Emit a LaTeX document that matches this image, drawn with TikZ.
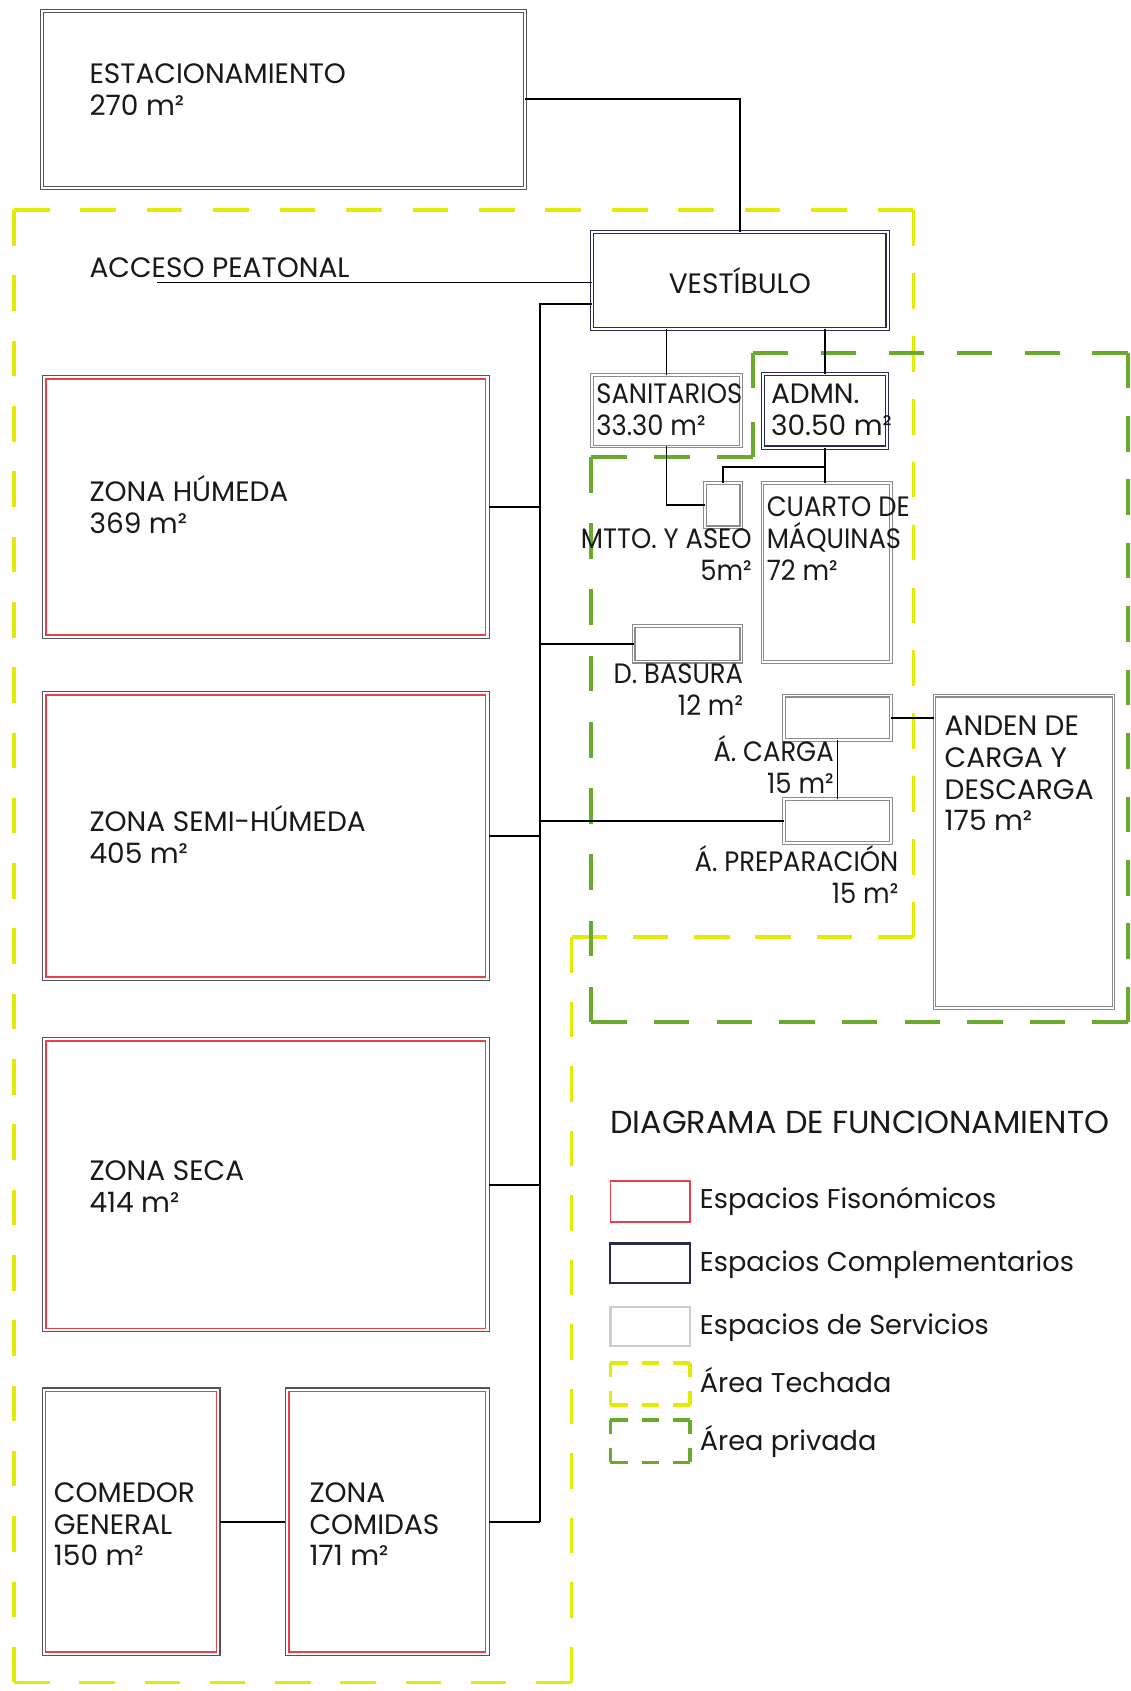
\documentclass[tikz,border=0pt]{standalone}
\usepackage{fontspec}
\setmainfont{Poppins}
\newfontfamily\narrowfont{Poppins}[FakeStretch=0.92]
\definecolor{yel}{RGB}{226,236,0}
\definecolor{grn}{RGB}{105,170,45}
\definecolor{navy}{RGB}{42,44,78}
\definecolor{fisred}{RGB}{232,62,78}
\definecolor{fisout}{RGB}{85,85,85}
\definecolor{servgray}{RGB}{140,140,140}
\definecolor{txt}{RGB}{25,25,25}
\definecolor{lgray}{RGB}{205,205,205}
\newcommand\mainfs{\fontsize{26}{29.5}\selectfont}
\newcommand\narrowfs{\narrowfont\fontsize{26}{29.5}\selectfont}
\newcommand\legfs{\fontsize{25.2}{29.5}\selectfont}
\newcommand\titlefs{\fontsize{29.5}{32}\selectfont}
\newcommand\dseg[4]{\draw[#1,dash pattern=on 33pt off #4pt] (#2) -- (#3);}
\begin{document}
\begin{tikzpicture}[x=1pt,y=-1pt,
  every node/.style={inner sep=0pt, outer sep=0pt, text=txt, font=\mainfs},
  conn/.style={draw=black, line width=1.7pt},
  serv/.style={rectangle, draw=servgray, line width=1pt, double=white, double distance=1.6pt},
  comp/.style={rectangle, draw=navy, line width=1.1pt, double=white, double distance=1.8pt},
  fis/.style={rectangle, draw=fisout, line width=1pt,
    path picture={\draw[draw=fisred, line width=1.6pt]
      ([shift={(3.2pt,-3.2pt)}]path picture bounding box.north west) rectangle
      ([shift={(-3.2pt,3.2pt)}]path picture bounding box.south east);}},
  lab/.style={anchor=base west, align=left},
  labr/.style={anchor=base east, align=right},
  narrow/.style={font=\narrowfs},
  leg/.style={anchor=base west, font=\legfs},
  yarea/.style={draw=yel, line width=3.5pt},
  garea/.style={draw=grn, line width=3.5pt}]
\useasboundingbox (0,0) rectangle (1048,1568);
\fill[white] (0,0) rectangle (1048,1568);
% covered area (yellow)
\coordinate (Y1) at (13,195); \coordinate (Y2) at (847,195);
\coordinate (Y3) at (847,869); \coordinate (Y4) at (530,869);
\coordinate (Y5) at (530,1560); \coordinate (Y6) at (13,1560);
\dseg{yarea}{Y1}{Y2}{28.6}
\dseg{yarea}{Y2}{Y3}{25.3}
\dseg{yarea}{Y3}{Y4}{23.8}
\dseg{yarea}{Y4}{Y5}{26.8}
\dseg{yarea}{Y5}{Y6}{27.5}
\dseg{yarea}{Y6}{Y1}{27.55}
% private area (green)
\coordinate (G1) at (698,327); \coordinate (G2) at (1046,327);
\coordinate (G3) at (1046,948); \coordinate (G4) at (548,948);
\coordinate (G5) at (548,424); \coordinate (G6) at (698,424);
\dseg{garea}{G1}{G2}{30}
\dseg{garea}{G2}{G3}{25.8}
\dseg{garea}{G3}{G4}{25.1}
\dseg{garea}{G4}{G5}{28.4}
\dseg{garea}{G5}{G6}{25.5}
\dseg{garea}{G6}{G1}{31}
% boxes
\node[serv, draw=fisout, minimum width=448pt, minimum height=164pt] (est) at (263,92) {};
\node[comp, minimum width=274pt, minimum height=90pt] (vest) at (686,260) {VESTÍBULO};
\node[serv, minimum width=138pt, minimum height=66pt] (san) at (618,381) {};
\node[comp, minimum width=115pt, minimum height=68pt] (adm) at (765,381) {};
\node[serv, minimum width=34pt, minimum height=41pt] (mtto) at (670.5,468.5) {};
\node[serv, minimum width=119pt, minimum height=166pt] (cuarto) at (766.5,531) {};
\node[serv, minimum width=100pt, minimum height=33pt] (bas) at (637.5,597) {};
\node[serv, minimum width=99pt, minimum height=41pt] (carga) at (776.5,665.5) {};
\node[serv, minimum width=99pt, minimum height=41pt] (prep) at (776.5,761.5) {};
\node[serv, minimum width=166pt, minimum height=290pt] (anden) at (949.5,790) {};
\node[fis, minimum width=414pt, minimum height=244pt] (zh) at (246.5,470) {};
\node[fis, minimum width=414pt, minimum height=268pt] (zsh) at (246.5,775) {};
\node[fis, minimum width=414pt, minimum height=273pt] (zs) at (246.5,1098.5) {};
\node[fis, minimum width=165pt, minimum height=248pt] (com) at (121.5,1411) {};
\node[fis, minimum width=189pt, minimum height=248pt] (zc) at (359,1411) {};
% connectors
\draw[conn] (est.east) -| (vest.north);
\coordinate (acc) at (146,262);
\draw[conn] (acc) -- (acc -| vest.west);
\coordinate (tt) at (501,282);
\draw[conn] (vest.west |- tt) -- (tt) -- (tt |- zc.east);
\foreach \n in {zh,zsh,zs,zc} \draw[conn] (\n.east) -- (\n.east -| tt);
\draw[conn] (bas.west) -- (bas.west -| tt);
\draw[conn] (prep.west) -- (prep.west -| tt);
\draw[conn] (com.east) -- (zc.west);
\draw[conn] (san.north) -- (san.north |- vest.south);
\draw[conn] (adm.north) -- (adm.north |- vest.south);
\draw[conn] (san.south) |- (mtto.west);
\draw[conn] (adm.south) -- (adm.south |- cuarto.north);
\coordinate (jm) at (765,433);
\draw[conn] (jm) -| (mtto.north);
\draw[conn] (carga.east) -- (carga.east -| anden.west);
\draw[conn] (carga.south) -- (prep.north);
% labels (base = baseline of last line)
\node[lab] (t_est) at (83,107) {ESTACIONAMIENTO\\270 m²};
\node[lab] (t_acc) at (83,257) {ACCESO PEATONAL};
\node[lab, narrow] (t_san) at (553,403.5) {SANITARIOS\\33.30 m²};
\node[lab] (t_adm) at (715,403.5) {ADMN.\\30.50 m²};
\node[labr, narrow] (t_mtto) at (697,538) {MTTO. Y ASEO\\5m²};
\node[lab, narrow] (t_cua) at (711,538) {CUARTO DE\\MÁQUINAS\\72 m²};
\node[labr, narrow] (t_bas) at (689,663) {D. BASURA\\12 m²};
\node[labr, narrow] (t_car) at (773,736) {Á. CARGA\\15 m²};
\node[labr, narrow] (t_pre) at (833,838) {Á. PREPARACIÓN\\15 m²};
\node[lab] (t_and) at (876,770.5) {ANDEN DE\\CARGA Y\\DESCARGA\\175 m²};
\node[lab] (t_zh) at (83,494.5) {ZONA HÚMEDA\\369 m²};
\node[lab] (t_zsh) at (83,800.5) {ZONA SEMI-HÚMEDA\\405 m²};
\node[lab] (t_zs) at (83,1124.5) {ZONA SECA\\414 m²};
\node[lab] (t_com) at (50,1452) {COMEDOR\\GENERAL\\150 m²};
\node[lab] (t_zc) at (287,1452) {ZONA\\COMIDAS\\171 m²};
% legend
\node[anchor=base west, font=\titlefs] (lt) at (566,1051) {DIAGRAMA DE FUNCIONAMIENTO};
\node[draw=fisred, line width=1.6pt, minimum width=74pt, minimum height=38pt] (lg1) at (603,1114) {};
\node[draw=navy, line width=2pt, minimum width=74pt, minimum height=37pt] (lg2) at (603,1171.5) {};
\node[draw=lgray, line width=2.2pt, minimum width=74pt, minimum height=36pt] (lg3) at (603,1230) {};
\coordinate (ly1) at (566,1264); \coordinate (ly2) at (640,1264);
\coordinate (ly3) at (640,1303); \coordinate (ly4) at (566,1303);
\draw[yarea, dash pattern=on 16pt off 13pt] (ly1) -- (ly2);
\draw[yarea, dash pattern=on 16pt off 13pt] (ly4) -- (ly3);
\draw[yarea, dash pattern=on 13pt off 13pt] (ly1) -- (ly4);
\draw[yarea, dash pattern=on 13pt off 13pt] (ly2) -- (ly3);
\coordinate (lp1) at (566,1317); \coordinate (lp2) at (640,1317);
\coordinate (lp3) at (640,1356); \coordinate (lp4) at (566,1356);
\draw[garea, dash pattern=on 16pt off 13pt] (lp1) -- (lp2);
\draw[garea, dash pattern=on 16pt off 13pt] (lp4) -- (lp3);
\draw[garea, dash pattern=on 13pt off 13pt] (lp1) -- (lp4);
\draw[garea, dash pattern=on 13pt off 13pt] (lp2) -- (lp3);
\node[leg] (l1) at (649,1121) {Espacios Fisonómicos};
\node[leg] (l2) at (649,1179) {Espacios Complementarios};
\node[leg] (l3) at (649,1237) {Espacios de Servicios};
\node[leg] (l4) at (649,1291) {Área Techada};
\node[leg] (l5) at (649,1345) {Área privada};
\end{tikzpicture}
\end{document}
